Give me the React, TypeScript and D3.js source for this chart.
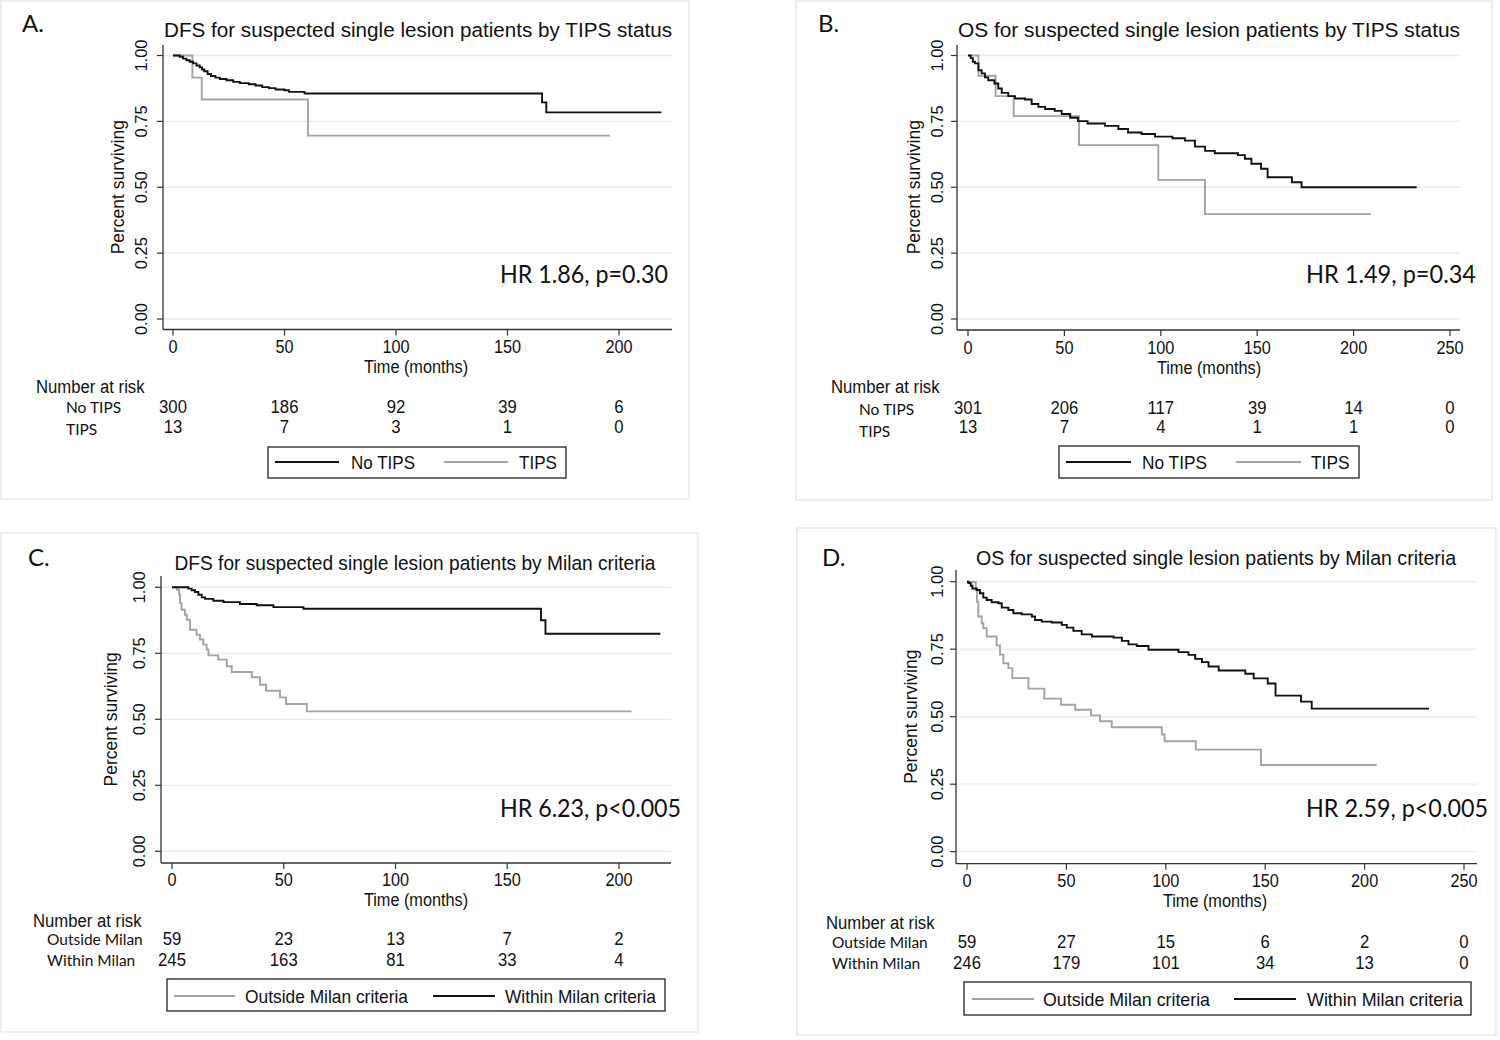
import React from 'react';
import * as d3 from 'd3';

type Pt = [number, number];

// ---------- Panel A: DFS by TIPS status ----------
const aNoTips: Pt[] = [[0,1],[3,0.995],[4.5,0.988],[6,0.982],[7.5,0.976],[9,0.97],[10.5,0.962],[12,0.955],[13,0.947],[14,0.94],[15.5,0.93],[17,0.922],[19,0.916],[21,0.911],[24,0.906],[27,0.9],[30,0.895],[34,0.891],[37,0.886],[40,0.88],[43,0.876],[46,0.871],[50,0.868],[52,0.862],[59,0.856],[165.5,0.822],[167.4,0.784],[219,0.784]];
const aTips: Pt[] = [[0,1],[8.7,0.916],[12.9,0.833],[60.5,0.696],[196,0.696]];
const aRiskNoTips = [300, 186, 92, 39, 6];
const aRiskTips = [13, 7, 3, 1, 0];

// ---------- Panel B: OS by TIPS status ----------
const bNoTips: Pt[] = [[0,1],[1.4,0.99],[2.5,0.976],[3.6,0.97],[5.4,0.944],[7.1,0.932],[8.8,0.917],[10.5,0.906],[13.7,0.894],[15.7,0.875],[17.5,0.858],[20.9,0.846],[24.4,0.837],[29.6,0.833],[33,0.816],[36.5,0.805],[40,0.797],[45,0.79],[48.6,0.778],[53,0.764],[57,0.751],[62,0.742],[71,0.733],[78,0.721],[83,0.708],[90,0.702],[97,0.692],[106,0.686],[112.5,0.677],[117.7,0.654],[123,0.638],[128,0.629],[140,0.622],[143.6,0.608],[147,0.589],[152,0.57],[155.4,0.538],[168,0.519],[173,0.5],[232.7,0.5]];
const bTips: Pt[] = [[0,1],[5.4,0.923],[14.3,0.846],[23.7,0.77],[57.6,0.66],[98.7,0.528],[122.9,0.398],[209,0.398]];
const bRiskNoTips = [301, 206, 117, 39, 14, 0];
const bRiskTips = [13, 7, 4, 1, 1, 0];

// ---------- Panel C: DFS by Milan criteria ----------
const cOutside: Pt[] = [[0,1],[2.1,0.991],[3.2,0.972],[3.6,0.94],[4.3,0.915],[5.8,0.896],[6.6,0.877],[8.1,0.839],[11,0.82],[12.5,0.802],[14,0.783],[15.5,0.764],[16.3,0.742],[20.7,0.726],[24.5,0.701],[26.7,0.679],[35.7,0.659],[39.4,0.631],[42.1,0.608],[48.3,0.583],[51,0.558],[60.3,0.53],[205.6,0.53]];
const cWithin: Pt[] = [[0,1],[7.3,0.995],[8.8,0.989],[10.3,0.982],[11.8,0.972],[13.3,0.962],[14.8,0.956],[18.5,0.949],[23,0.944],[30.4,0.937],[37.9,0.932],[45.4,0.925],[58.8,0.919],[165.1,0.875],[167.1,0.824],[218.5,0.824]];
const cRiskOutside = [59, 23, 13, 7, 2];
const cRiskWithin = [245, 163, 81, 33, 4];

// ---------- Panel D: OS by Milan criteria ----------
const dOutside: Pt[] = [[0,1],[4.4,0.969],[5,0.926],[5.7,0.871],[7.4,0.846],[8.2,0.828],[9.9,0.797],[14.9,0.764],[16.6,0.73],[18.3,0.698],[20.8,0.68],[22.8,0.643],[30.9,0.604],[38.9,0.567],[47.3,0.544],[54.4,0.526],[62.4,0.505],[66.9,0.483],[72.8,0.461],[98,0.434],[99.4,0.409],[115.1,0.378],[147.9,0.321],[206.1,0.321]];
const dWithin: Pt[] = [[0,1],[0.7,0.995],[1.9,0.985],[2.7,0.975],[4.9,0.969],[6.5,0.957],[8.2,0.941],[9.9,0.932],[12.4,0.924],[15.8,0.92],[17.5,0.904],[20.8,0.895],[23.3,0.883],[27.5,0.879],[32.6,0.871],[34.2,0.858],[37.6,0.852],[42.6,0.849],[47.7,0.84],[50.2,0.83],[53.5,0.818],[57.7,0.805],[62.8,0.797],[73.7,0.793],[77.9,0.781],[81.2,0.768],[85.4,0.762],[91.3,0.748],[106.4,0.739],[111.4,0.729],[114.8,0.714],[118.2,0.702],[121.5,0.686],[126.6,0.671],[140,0.659],[144.2,0.642],[151.3,0.623],[155.2,0.578],[168,0.556],[173.4,0.53],[232.4,0.53]];
const dRiskOutside = [59, 27, 15, 6, 2, 0];
const dRiskWithin = [246, 179, 101, 34, 13, 0];

const xTicks200 = [0, 50, 100, 150, 200];
const xTicks250 = [0, 50, 100, 150, 200, 250];
const yTicks = [0, 0.25, 0.5, 0.75, 1];

const BLACK = '#111';
const GRAY = '#a3a3a3';
const ARIAL = "'Liberation Sans', Arial, sans-serif";
const CAL = "Lato, 'Open Sans', sans-serif";
const SX = 0.88;

// condensed Arial-like text (Stata narrow look)
function CText({ x, y, anchor, size, rot, children }: { x: number; y: number; anchor?: string; size: number; rot?: number; children: React.ReactNode }) {
  const tr = `translate(${x},${y})${rot ? ` rotate(${rot})` : ''} scale(${SX},1)`;
  return (
    <text transform={tr} textAnchor={anchor || 'start'} fontFamily={ARIAL} fontSize={size} fill="#111">{children}</text>
  );
}

interface Series { data: Pt[]; color: string; }
interface LegendItem { label: string; color: string; l1: number; l2: number; tx: number; tlen: number; }
interface PanelCfg {
  letter: string; letterX: number; letterY: number;
  box: [number, number, number, number];
  title: string; titleX: number; titleY: number; titleLen: number;
  ticks: number[]; x0: number; xMaxPx: number; axisL: number; axisR: number;
  yTop: number; yBot: number; axisY: number; yAxisTop: number;
  yLabX: number; yTitleX: number; tickLabY: number; xTitleX: number; xTitleY: number;
  series: Series[];
  narX: number; narY: number; rowX: number; rowLabY: [number, number]; rowNumY: [number, number];
  rowNames: [string, string]; risks: [number[], number[]];
  legBox: [number, number, number, number]; legLineY: number; legTextY: number; legend: LegendItem[];
  hr: string; hrX: number; hrY: number; hrLen: number;
}

function Panel({ c }: { c: PanelCfg }) {
  const tMax = c.ticks[c.ticks.length - 1];
  const x = d3.scaleLinear().domain([0, tMax]).range([c.x0, c.xMaxPx]);
  const y = d3.scaleLinear().domain([0, 1]).range([c.yBot, c.yTop]);
  const line = d3.line<Pt>().x(d => x(d[0])).y(d => y(d[1])).curve(d3.curveStepAfter);
  const [bx0, by0, bx1, by1] = c.box;
  return (
    <g>
      <rect x={bx0} y={by0} width={bx1 - bx0} height={by1 - by0} fill="none" stroke="#e2ebee" strokeWidth={1.5} />
      <text x={c.letterX} y={c.letterY} fontFamily={CAL} fontSize={24} fill="#111">{c.letter}</text>
      <text x={c.titleX} y={c.titleY} textAnchor="middle" fontFamily={ARIAL} fontSize={20.5} fill="#111"
        textLength={c.titleLen} lengthAdjust="spacingAndGlyphs">{c.title}</text>
      {yTicks.map(t => (
        <g key={'g' + t}>
          <line x1={c.axisL} x2={c.axisR} y1={y(t)} y2={y(t)} stroke="#e3edf1" strokeWidth={1.3} />
          <line x1={c.axisL - 6} x2={c.axisL} y1={y(t)} y2={y(t)} stroke="#333" strokeWidth={1.2} />
          <text transform={`translate(${c.yLabX},${y(t)}) rotate(-90)`} textAnchor="middle"
            fontFamily={ARIAL} fontSize={16.5} fill="#111">{t.toFixed(2)}</text>
        </g>
      ))}
      <text transform={`translate(${c.yTitleX},${(c.yTop + c.yBot) / 2}) rotate(-90)`} textAnchor="middle"
        fontFamily={ARIAL} fontSize={17.5} fill="#111">Percent surviving</text>
      <line x1={c.axisL} x2={c.axisL} y1={c.yAxisTop} y2={c.axisY} stroke="#333" strokeWidth={1.3} />
      <line x1={c.axisL} x2={c.axisR} y1={c.axisY} y2={c.axisY} stroke="#333" strokeWidth={1.3} />
      {c.ticks.map(t => (
        <g key={'x' + t}>
          <line x1={x(t)} x2={x(t)} y1={c.axisY} y2={c.axisY + 6} stroke="#333" strokeWidth={1.2} />
          <CText x={x(t)} y={c.tickLabY} anchor="middle" size={18.5}>{t}</CText>
        </g>
      ))}
      <CText x={c.xTitleX} y={c.xTitleY} anchor="middle" size={18.5}>Time (months)</CText>
      {c.series.map((s, i) => (
        <path key={'s' + i} d={line(s.data) || ''} fill="none" stroke={s.color} strokeWidth={1.9} />
      ))}
      <text x={c.hrX} y={c.hrY} textAnchor="end" fontFamily={CAL} fontSize={24.5} fill="#111"
        textLength={c.hrLen} lengthAdjust="spacingAndGlyphs">{c.hr}</text>
      <CText x={c.narX} y={c.narY} size={19}>Number at risk</CText>
      {c.rowNames.map((n, i) => (
        <text key={'rn' + i} x={c.rowX} y={c.rowLabY[i]} fontFamily={CAL} fontSize={15.5} fill="#111">{n}</text>
      ))}
      {c.risks.map((row, i) => row.map((v, j) => (
        <CText key={`r${i}-${j}`} x={x(c.ticks[j])} y={c.rowNumY[i]} anchor="middle" size={19}>{v}</CText>
      )))}
      <rect x={c.legBox[0]} y={c.legBox[1]} width={c.legBox[2] - c.legBox[0]} height={c.legBox[3] - c.legBox[1]}
        fill="#fff" stroke="#222" strokeWidth={1.3} />
      {c.legend.map((l, i) => (
        <g key={'l' + i}>
          <line x1={l.l1} x2={l.l2} y1={c.legLineY} y2={c.legLineY} stroke={l.color} strokeWidth={1.9} />
          <text x={l.tx} y={c.legTextY} fontFamily={ARIAL} fontSize={19} fill="#111"
            textLength={l.tlen} lengthAdjust="spacingAndGlyphs">{l.label}</text>
        </g>
      ))}
    </g>
  );
}

const panels: PanelCfg[] = [
  {
    letter: 'A.', letterX: 22, letterY: 32, box: [1, 1, 689, 499],
    title: 'DFS for suspected single lesion patients by TIPS status', titleX: 418, titleY: 37, titleLen: 508,
    ticks: xTicks200, x0: 173, xMaxPx: 619, axisL: 163, axisR: 672,
    yTop: 55.5, yBot: 319, axisY: 329.5, yAxisTop: 45,
    yLabX: 147, yTitleX: 124, tickLabY: 353, xTitleX: 416, xTitleY: 373,
    series: [{ data: aTips, color: GRAY }, { data: aNoTips, color: BLACK }],
    narX: 36, narY: 393, rowX: 66, rowLabY: [413, 435], rowNumY: [413, 433],
    rowNames: ['No TIPS', 'TIPS'], risks: [aRiskNoTips, aRiskTips],
    legBox: [268, 447, 566, 478], legLineY: 462, legTextY: 469,
    legend: [
      { label: 'No TIPS', color: BLACK, l1: 275, l2: 339, tx: 351, tlen: 64 },
      { label: 'TIPS', color: GRAY, l1: 444, l2: 508, tx: 519, tlen: 38 },
    ],
    hr: 'HR 1.86, p=0.30', hrX: 668, hrY: 283, hrLen: 168,
  },
  {
    letter: 'B.', letterX: 818, letterY: 32, box: [796, 1, 1492, 500],
    title: 'OS for suspected single lesion patients by TIPS status', titleX: 1209, titleY: 37, titleLen: 502,
    ticks: xTicks250, x0: 968, xMaxPx: 1450, axisL: 957, axisR: 1460,
    yTop: 55.5, yBot: 319, axisY: 330, yAxisTop: 45,
    yLabX: 943, yTitleX: 920, tickLabY: 354, xTitleX: 1209, xTitleY: 374,
    series: [{ data: bTips, color: GRAY }, { data: bNoTips, color: BLACK }],
    narX: 831, narY: 393, rowX: 859, rowLabY: [415, 437], rowNumY: [414, 433],
    rowNames: ['No TIPS', 'TIPS'], risks: [bRiskNoTips, bRiskTips],
    legBox: [1059, 446, 1359, 478], legLineY: 462, legTextY: 469,
    legend: [
      { label: 'No TIPS', color: BLACK, l1: 1066, l2: 1131, tx: 1142, tlen: 65 },
      { label: 'TIPS', color: GRAY, l1: 1236, l2: 1301, tx: 1311, tlen: 38.6 },
    ],
    hr: 'HR 1.49, p=0.34', hrX: 1476, hrY: 283, hrLen: 170,
  },
  {
    letter: 'C.', letterX: 28, letterY: 566, box: [1, 533, 698, 1032],
    title: 'DFS for suspected single lesion patients by Milan criteria', titleX: 415, titleY: 570, titleLen: 481,
    ticks: xTicks200, x0: 172, xMaxPx: 619, axisL: 161, axisR: 671,
    yTop: 587.3, yBot: 851.3, axisY: 863, yAxisTop: 576,
    yLabX: 145, yTitleX: 117, tickLabY: 886, xTitleX: 416, xTitleY: 906,
    series: [{ data: cOutside, color: GRAY }, { data: cWithin, color: BLACK }],
    narX: 33, narY: 927, rowX: 47, rowLabY: [945, 966], rowNumY: [945, 966],
    rowNames: ['Outside Milan', 'Within Milan'], risks: [cRiskOutside, cRiskWithin],
    legBox: [167, 979, 665, 1011], legLineY: 996, legTextY: 1003,
    legend: [
      { label: 'Outside Milan criteria', color: GRAY, l1: 174, l2: 235, tx: 245, tlen: 163 },
      { label: 'Within Milan criteria', color: BLACK, l1: 433, l2: 495, tx: 505, tlen: 151 },
    ],
    hr: 'HR 6.23, p<0.005', hrX: 681, hrY: 817, hrLen: 181,
  },
  {
    letter: 'D.', letterX: 822, letterY: 566, box: [797, 528, 1496, 1035],
    title: 'OS for suspected single lesion patients by Milan criteria', titleX: 1216, titleY: 565, titleLen: 480,
    ticks: xTicks250, x0: 967, xMaxPx: 1464, axisL: 956, axisR: 1477,
    yTop: 581.7, yBot: 851.7, axisY: 863.7, yAxisTop: 570,
    yLabX: 943, yTitleX: 917, tickLabY: 887, xTitleX: 1215, xTitleY: 907,
    series: [{ data: dOutside, color: GRAY }, { data: dWithin, color: BLACK }],
    narX: 826, narY: 929, rowX: 832, rowLabY: [948, 969], rowNumY: [948, 969],
    rowNames: ['Outside Milan', 'Within Milan'], risks: [dRiskOutside, dRiskWithin],
    legBox: [964, 982, 1471, 1015], legLineY: 999, legTextY: 1006,
    legend: [
      { label: 'Outside Milan criteria', color: GRAY, l1: 972, l2: 1034, tx: 1043, tlen: 167 },
      { label: 'Within Milan criteria', color: BLACK, l1: 1234, l2: 1296, tx: 1307, tlen: 156 },
    ],
    hr: 'HR 2.59, p<0.005', hrX: 1488, hrY: 817, hrLen: 182,
  },
];

export default function App() {
  return (
    <svg width={1500} height={1040} viewBox="0 0 1500 1040"
      style={{ position: 'absolute', left: 0, top: 0, background: '#fff' }}>
      <rect x={0} y={0} width={1500} height={1040} fill="#fff" />
      {panels.map((p, i) => <Panel key={i} c={p} />)}
    </svg>
  );
}
